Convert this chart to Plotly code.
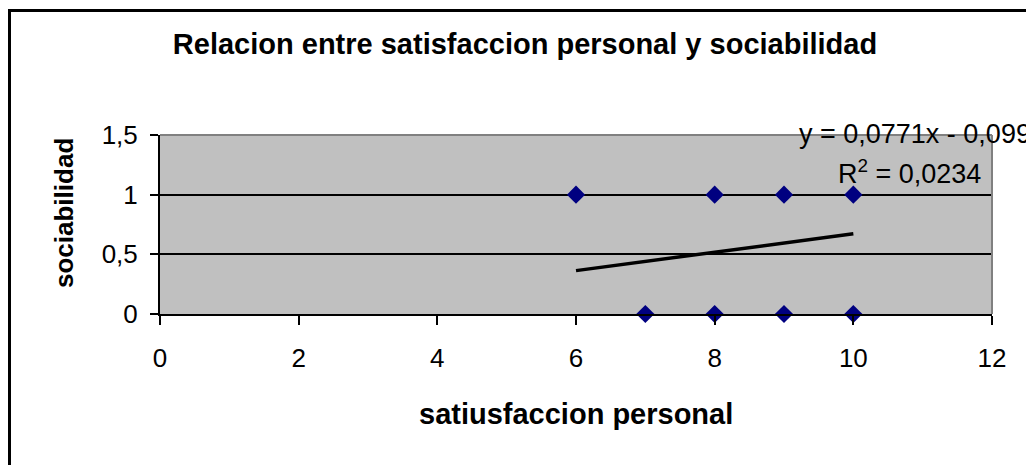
import plotly.graph_objects as go

# Data
satisfaccion = [6, 8, 9, 10, 7, 8, 9, 10]
sociabilidad = [1, 1, 1, 1, 0, 0, 0, 0]

# Trendline shown on the chart (Excel linear fit)
trend_slope = 0.0771
trend_intercept = -0.099
trend_r2 = 0.0234

title_text = "Relacion entre satisfaccion personal y sociabilidad"
x_title = "satiusfaccion personal"
y_title = "sociabilidad"
x_tickvals = [0, 2, 4, 6, 8, 10, 12]
y_tickvals = [0, 0.5, 1, 1.5]

OFF = 8  # page body margin
W, H = 1034, 465
L, T = 160 - OFF, 135 - OFF
pw, ph = 832, 179
R = W - L - pw
B = H - T - ph

def px_to_paper_x(px):
    return (px - OFF - L) / pw

def px_to_paper_y(py):
    return (T + ph - (py - OFF)) / ph

FONT = "Liberation Sans, Arial, sans-serif"

tx = [min(satisfaccion), max(satisfaccion)]
ty = [trend_slope * v + trend_intercept for v in tx]

fig = go.Figure()
fig.add_trace(go.Scatter(
    x=tx, y=ty, mode="lines",
    line=dict(color="black", width=3.5),
    hoverinfo="skip", showlegend=False,
))
fig.add_trace(go.Scatter(
    x=satisfaccion, y=sociabilidad, mode="markers",
    marker=dict(symbol="diamond", size=14, color="#000080",
                line=dict(width=0)),
    cliponaxis=False, showlegend=False,
))

fig.update_layout(
    width=W, height=H,
    margin=dict(l=L, r=R, t=T, b=B, autoexpand=False),
    paper_bgcolor="white",
    plot_bgcolor="#C0C0C0",
    separators=",.",
    font=dict(family=FONT, color="black", size=26),
    title=dict(text="<b>" + title_text + "</b>",
               x=(525 - OFF) / W, xanchor="center",
               y=1 - (44 - OFF) / H, yanchor="middle",
               font=dict(family=FONT, size=29, color="black")),
    xaxis=dict(
        range=[0, 12], tickvals=x_tickvals, ticks="outside", ticklen=9,
        tickwidth=2, tickcolor="black", showline=True, linecolor="black",
        linewidth=2, showgrid=False, zeroline=False,
        tickfont=dict(size=26), ticklabelstandoff=11,
    ),
    yaxis=dict(
        range=[0, 1.5], tickvals=y_tickvals, ticks="outside", ticklen=8,
        tickwidth=2, tickcolor="black", showline=True, linecolor="black",
        linewidth=2, showgrid=True, gridcolor="black", gridwidth=2,
        zeroline=False, tickfont=dict(size=26), ticklabelstandoff=7,
    ),
    annotations=[
        dict(text="<b>" + x_title + "</b>", xref="paper", yref="paper",
             x=px_to_paper_x(576), y=px_to_paper_y(414), xanchor="center",
             yanchor="middle", showarrow=False, font=dict(size=29)),
        dict(text="<b>" + y_title + "</b>", xref="paper", yref="paper",
             x=px_to_paper_x(64), y=px_to_paper_y(213), xanchor="center",
             yanchor="middle", textangle=-90, showarrow=False,
             font=dict(size=26)),
        dict(text="y = 0,0771x - 0,099", xref="paper", yref="paper",
             x=px_to_paper_x(1033), y=px_to_paper_y(134), xanchor="right",
             yanchor="middle", showarrow=False, font=dict(size=27)),
        dict(text="R<sup>2</sup> = 0,0234", xref="paper", yref="paper",
             x=px_to_paper_x(983), y=px_to_paper_y(172), xanchor="right",
             yanchor="middle", showarrow=False, font=dict(size=27)),
    ],
    shapes=[
        # plot area top and right edges (gray)
        dict(type="line", xref="paper", yref="paper", x0=0, x1=1, y0=1, y1=1,
             line=dict(color="#808080", width=2), layer="above"),
        dict(type="line", xref="paper", yref="paper", x0=1, x1=1, y0=0, y1=1,
             line=dict(color="#808080", width=2), layer="above"),
        # outer chart border
        dict(type="rect", xref="paper", yref="paper",
             x0=px_to_paper_x(9.5), x1=px_to_paper_x(1300),
             y0=px_to_paper_y(800), y1=px_to_paper_y(10.5),
             line=dict(color="black", width=3), fillcolor="rgba(0,0,0,0)",
             layer="above"),
    ],
)

fig.write_html("out.html")
